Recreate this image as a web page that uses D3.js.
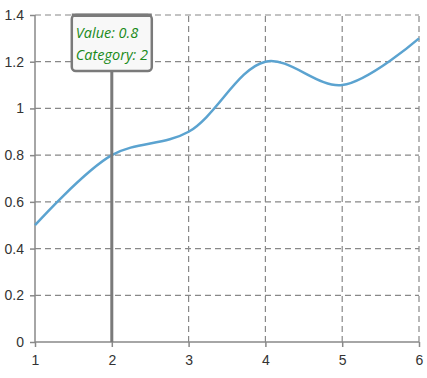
<!DOCTYPE html>
<html>
<head>
<meta charset="utf-8">
<script src="https://cdn.jsdelivr.net/npm/d3@7"></script>
<style>
  body { margin: 0; background: #fff; }
  svg { font-family: "Segoe UI", "Open Sans", sans-serif; }
</style>
</head>
<body>
<div id="chart"></div>
<script>
var categories = [1, 2, 3, 4, 5, 6];
var values = [0.5, 0.8, 0.9, 1.2, 1.1, 1.3];
var yTicks = [0, 0.2, 0.4, 0.6, 0.8, 1, 1.2, 1.4];
var selected = 1;

var width = 427, height = 378;
var margin = {top: 15, right: 8, bottom: 36, left: 35};

var svg = d3.select('#chart').append('svg')
    .attr('width', width)
    .attr('height', height);

var x = d3.scaleLinear().domain([1, 6]).range([margin.left, width - margin.right]);
var y = d3.scaleLinear().domain([0, 1.4]).range([height - margin.bottom, margin.top]);

// grid
svg.append('g').selectAll('line.h')
    .data(yTicks.slice(1))
    .enter().append('line')
    .attr('x1', x(1)).attr('x2', x(6))
    .attr('y1', function(d) { return y(d); })
    .attr('y2', function(d) { return y(d); })
    .attr('stroke', '#888').attr('stroke-width', 1.2)
    .attr('stroke-dasharray', '6,4');

svg.append('g').selectAll('line.v')
    .data(categories.slice(1))
    .enter().append('line')
    .attr('x1', function(d) { return x(d); })
    .attr('x2', function(d) { return x(d); })
    .attr('y1', y(0)).attr('y2', y(1.4))
    .attr('stroke', '#888').attr('stroke-width', 1.2)
    .attr('stroke-dasharray', '6,4');

// axes
var xAxis = svg.append('g')
    .attr('transform', 'translate(0,' + y(0) + ')')
    .call(d3.axisBottom(x).tickValues(categories).tickFormat(d3.format('d')).tickSize(5).tickPadding(8));
var yAxis = svg.append('g')
    .attr('transform', 'translate(' + x(1) + ',0)')
    .call(d3.axisLeft(y).tickValues(yTicks).tickFormat(function(d) { return d; }).tickSize(5).tickPadding(6));

[xAxis, yAxis].forEach(function(a) {
  a.select('.domain').attr('stroke', '#888').attr('stroke-width', 1.5);
  a.selectAll('.tick line').attr('stroke', '#888').attr('stroke-width', 1.5);
  a.selectAll('.tick text').attr('fill', '#333').style('font-size', '14px');
});
yAxis.select('.domain').attr('d', 'M0,' + y(0) + 'V' + y(1.4));
xAxis.select('.domain').attr('d', 'M' + x(1) + ',0H' + x(6));

// line
var line = d3.line()
    .x(function(d, i) { return x(categories[i]); })
    .y(function(d) { return y(d); })
    .curve(d3.curveCatmullRom);

svg.append('path')
    .datum(values)
    .attr('d', line)
    .attr('fill', 'none')
    .attr('stroke', '#5ba3d0')
    .attr('stroke-width', 2.5);

// tracker
var tx = x(categories[selected]);
var boxW = 80, boxH = 56, boxTop = y(1.4);
svg.append('line')
    .attr('x1', tx).attr('x2', tx)
    .attr('y1', boxTop + boxH).attr('y2', y(0))
    .attr('stroke', '#7a7a7a').attr('stroke-width', 3);

var tip = svg.append('g').attr('transform', 'translate(' + (tx - boxW / 2) + ',' + boxTop + ')');
tip.append('rect')
    .attr('x', 0).attr('y', 0).attr('width', boxW).attr('height', boxH)
    .attr('rx', 4)
    .attr('fill', '#f8f8f8')
    .attr('stroke', '#7a7a7a').attr('stroke-width', 2.5);
tip.append('rect')
    .attr('x', 0).attr('y', -1.5).attr('width', boxW).attr('height', 3.5)
    .attr('fill', '#7a7a7a');
tip.append('text')
    .attr('x', 4).attr('y', 23)
    .attr('fill', '#1a8a1a').style('font-style', 'italic').style('font-size', '14.5px')
    .text('Value: ' + values[selected]);
tip.append('text')
    .attr('x', 4).attr('y', 45)
    .attr('fill', '#1a8a1a').style('font-style', 'italic').style('font-size', '14.5px')
    .text('Category: ' + categories[selected]);
</script>
</body>
</html>
